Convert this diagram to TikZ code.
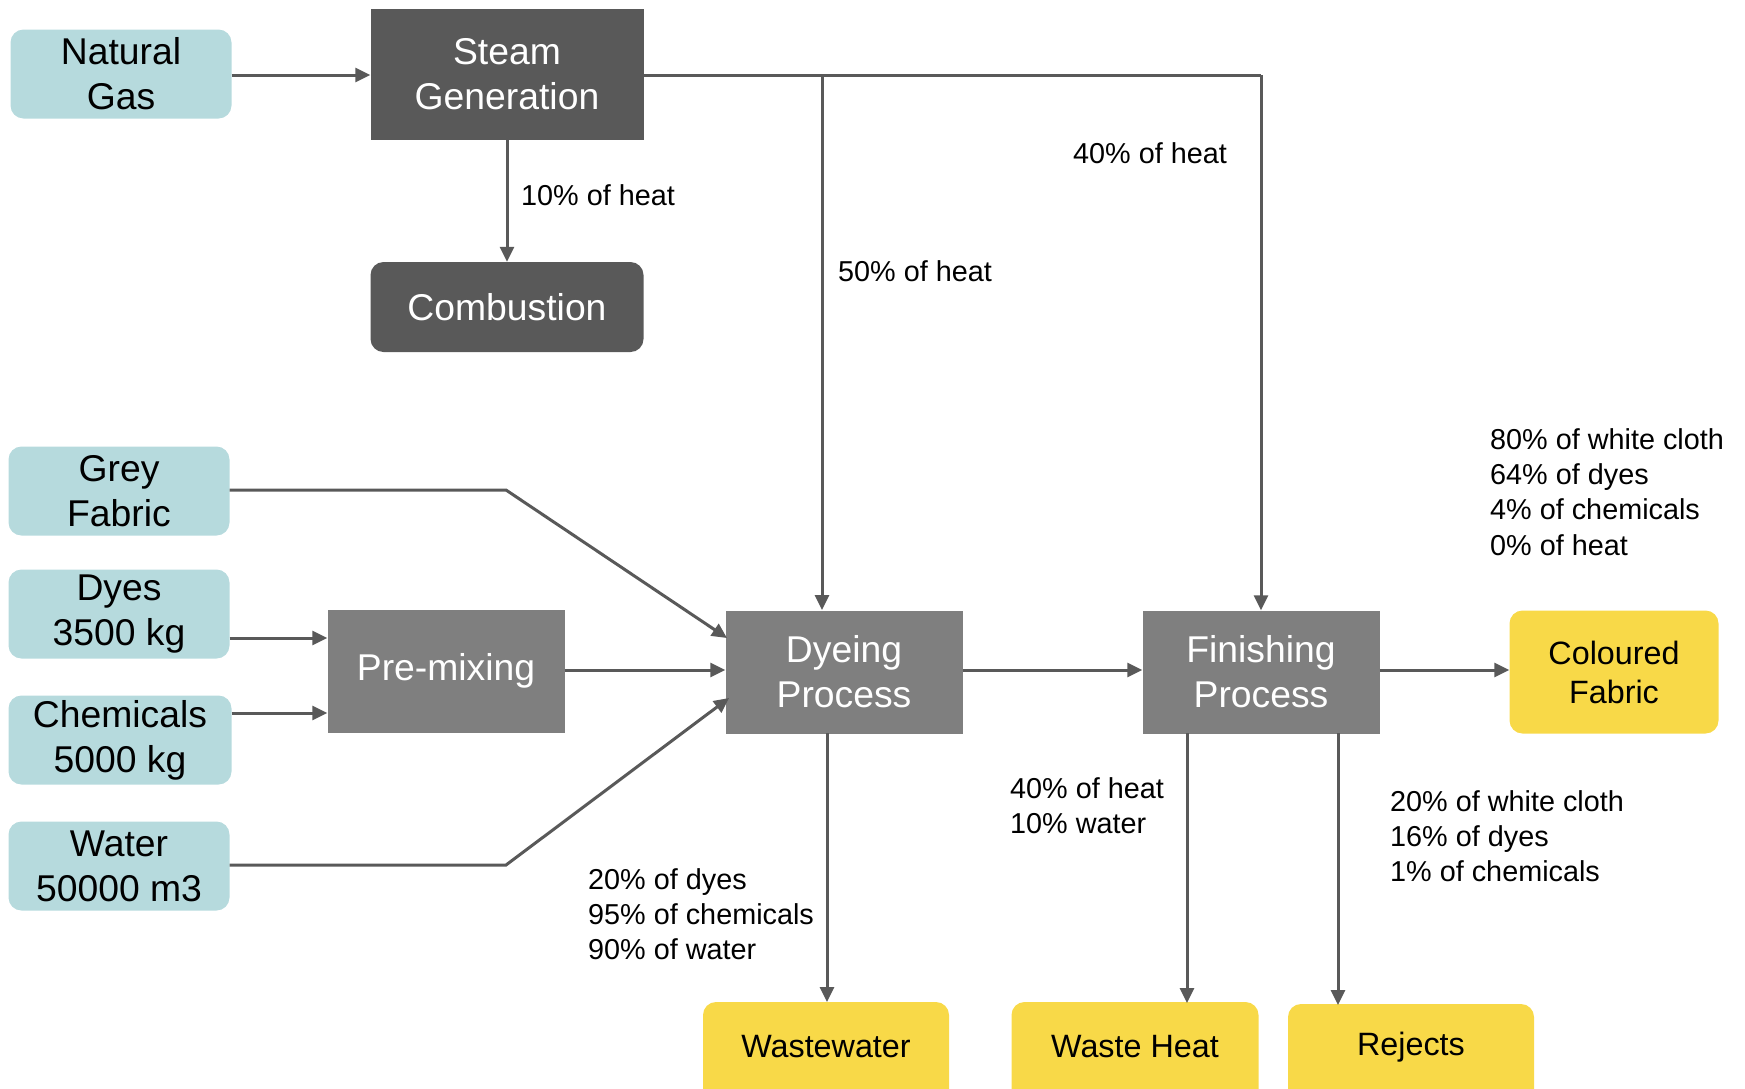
\documentclass[tikz,border=0pt]{standalone}
\usepackage{fontspec}
\setmainfont{Liberation Sans}
\usetikzlibrary{arrows.meta,calc}
\definecolor{inblue}{HTML}{B6DADD}
\definecolor{darkbox}{HTML}{595959}
\definecolor{midbox}{HTML}{7F7F7F}
\definecolor{outyel}{HTML}{F8D948}
\definecolor{linec}{HTML}{595959}
\tikzset{
  base/.style={inner sep=0pt, align=center, font=\fontsize{37.3}{45}\selectfont},
  inbox/.style={base, fill=inblue, rounded corners=13pt, text=black, minimum width=221pt, minimum height=89pt},
  darkrect/.style={base, fill=darkbox, text=white},
  procbox/.style={base, fill=midbox, text=white, minimum width=237pt, minimum height=123pt},
  outbox/.style={base, fill=outyel, rounded corners=13pt, text=black, font=\fontsize{32.3}{39}\selectfont},
  outtext/.style={inner sep=0pt, align=center, font=\fontsize{32.3}{39}\selectfont},
  lbl/.style={inner sep=0pt, anchor=west, align=left, font=\fontsize{28.8}{35.2}\selectfont},
  flow/.style={draw=linec, line width=3pt, -{Triangle[length=15pt,width=14pt]}},
  plain/.style={draw=linec, line width=3pt}
}
\begin{document}
\begin{tikzpicture}[x=1pt,y=-1pt]
\useasboundingbox (0,0) rectangle (1745,1088);
\clip (0,0) rectangle (1745,1088);
% nodes
\node[inbox] (gas) at (121,74) {Natural\\Gas};
\node[darkrect, minimum width=273pt, minimum height=131pt] (steam) at (507,74) {Steam\\Generation};
\node[darkrect, rounded corners=13pt, minimum width=273pt, minimum height=90pt] (comb) at (507,307) {Combustion};
\node[inbox] (grey) at (119,491) {Grey\\Fabric};
\node[inbox] (dyes) at (119,614) {Dyes\\3500 kg};
\node[inbox, minimum width=223pt] (chem) at (120,740) {Chemicals\\5000 kg};
\node[inbox] (water) at (119,866) {Water\\50000 m3};
\node[procbox] (premix) at (446,671) {Pre-mixing};
\node[procbox] (dye) at (844,672) {Dyeing\\Process};
\node[procbox] (fin) at (1261,672) {Finishing\\Process};
\node[outbox, minimum width=209pt, minimum height=123pt] (col) at (1614,672) {Coloured\\Fabric};
\node[outbox, minimum width=246pt, minimum height=120pt] (ww) at (826,1062) {};
\node[outtext] (wwt) at (826,1047) {Wastewater};
\node[outbox, minimum width=247pt, minimum height=120pt] (wh) at (1135,1062) {};
\node[outtext] (wht) at (1135,1047) {Waste Heat};
\node[outbox, minimum width=246pt, minimum height=118pt] (rej) at (1411,1063) {};
\node[outtext] (rejt) at (1411,1047) {Rejects};
% labels
\node[lbl] (l10) at (521,195) {10\% of heat};
\node[lbl] (l50) at (838,271) {50\% of heat};
\node[lbl] (l40) at (1073,153) {40\% of heat};
\node[lbl] (lcol) at (1490,492) {80\% of white cloth\\64\% of dyes\\4\% of chemicals\\0\% of heat};
\node[lbl] (lww) at (588,914) {20\% of dyes\\95\% of chemicals\\90\% of water};
\node[lbl] (lwh) at (1010,806) {40\% of heat\\10\% water};
\node[lbl] (lrej) at (1390,836) {20\% of white cloth\\16\% of dyes\\1\% of chemicals};
% coordinates
\coordinate (tr) at (1261,75);
\coordinate (br) at (822,75);
\coordinate (gk) at (506,490);
\coordinate (wk) at (506,865);
\coordinate (dyeA) at (727,638);
\coordinate (dyeB) at (729,698);
\coordinate (dyeTop) at (822,610);
\coordinate (dyeBot) at (827,733);
\coordinate (wwTop) at (827,1002);
\coordinate (finB1) at (1187,733);
\coordinate (whTop) at (1187,1003);
\coordinate (finB2) at (1338,733);
\coordinate (rejTop) at (1338,1005);
% connectors
\draw[flow] (gas.east |- 0,75) -- (steam.west |- 0,75);
\draw[flow] (steam.south) -- (comb.north);
\draw[plain] (steam.east |- 0,75) -- (tr);
\draw[flow] (tr) -- (fin.north);
\draw[flow] (br) -- (dyeTop);
\draw[flow] (dyes.east |- 0,638) -- (premix.west |- 0,638);
\draw[flow] (chem.east |- 0,713) -- (premix.west |- 0,713);
\draw[flow] (premix.east |- 0,670) -- (dye.west |- 0,670);
\draw[flow, line join=miter] (grey.east |- 0,490) -- (gk) -- (dyeA);
\draw[flow, line join=miter] (water.east |- 0,865) -- (wk) -- (dyeB);
\draw[flow] (dye.east |- 0,670) -- (fin.west |- 0,670);
\draw[flow] (fin.east |- 0,670) -- (col.west |- 0,670);
\draw[flow] (dyeBot) -- (wwTop);
\draw[flow] (finB1) -- (whTop);
\draw[flow] (finB2) -- (rejTop);
\end{tikzpicture}
\end{document}
